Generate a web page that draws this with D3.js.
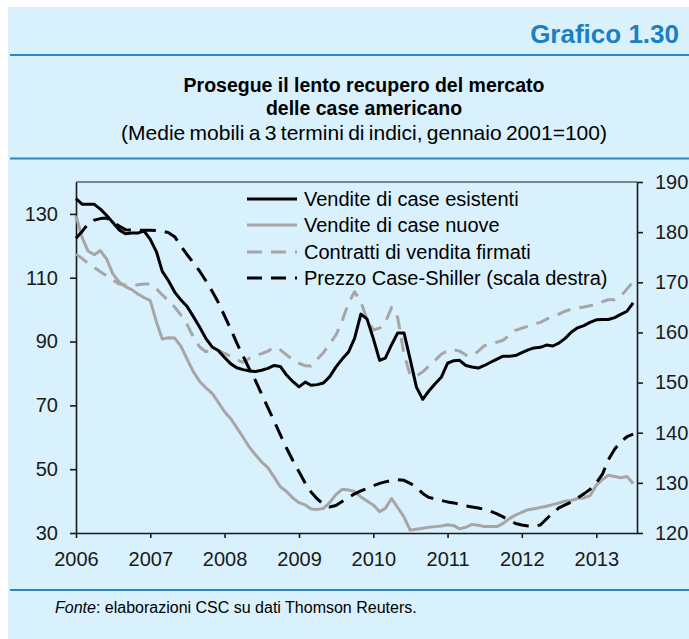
<!DOCTYPE html>
<html>
<head>
<meta charset="utf-8">
<script src="https://cdn.jsdelivr.net/npm/d3@7"></script>
<style>
  body { margin: 0; background: #ffffff; }
  svg { display: block; }
  text { font-family: "Liberation Sans", Arial, Helvetica, sans-serif; }
</style>
</head>
<body>
<svg id="chart" width="689" height="639"></svg>
<script>
// Monthly observations, January 2006 – July 2013
const startYear = 2006;
const yearTicks = [2006, 2007, 2008, 2009, 2010, 2011, 2012, 2013];
const leftTicks = [30, 50, 70, 90, 110, 130];
const rightTicks = [120, 130, 140, 150, 160, 170, 180, 190];

const seriesNames = [
  "Vendite di case esistenti",
  "Vendite di case nuove",
  "Contratti di vendita firmati",
  "Prezzo Case-Shiller (scala destra)"
];

// Existing home sales (left scale)
const existingSales = [
  134.8, 133, 133, 133, 131.5, 129.5, 127.3, 125, 123.8, 124, 124, 124.7,
  122, 118, 112, 109, 105.5, 103, 101, 97.8, 94.5, 91, 88.3, 87.2,
  85, 83, 81.8, 81.2, 80.8, 80.6, 81, 81.6, 82.5, 82.2, 79.5, 77.5,
  75.8, 77.3, 76.3, 76.5, 77, 79, 82, 84.5, 86.7, 91, 98.6, 97.1,
  91, 84.1, 84.8, 89, 92.7, 92.7, 84.5, 75.7, 71.9, 74.5, 76.8, 78.8,
  83.2, 84, 84.1, 82.5, 82, 81.7, 82.5, 83.5, 84.5, 85.4, 85.4, 85.6,
  86.5, 87.4, 88, 88.2, 88.9, 88.6, 89.5, 91, 93, 94.3, 95, 96,
  96.8, 96.9, 96.9, 97.5, 98.5, 99.5, 102.1
];

// New home sales (left scale)
const newSales = [
  129.4, 122.5, 118.4, 117.2, 118.5, 115.8, 111.2, 108.7, 107.2, 106.3, 104.9, 103.8,
  102.8, 96, 90.8, 91.2, 91.1, 88.5, 84.5, 80.5, 77.5, 75.5, 73.8, 71,
  68, 65.8, 63, 60, 57, 54.5, 52.3, 50.5, 47.5, 44.5, 43, 41,
  39.5, 38.8, 37.5, 37.4, 37.7, 39.5, 42, 43.7, 43.5, 43, 41.3, 40,
  38.8, 36.7, 37.7, 40.8, 38, 35, 30.9, 31.2, 31.5, 31.8, 32, 32.2,
  32.6, 32.3, 31.3, 31.8, 32.7, 32.4, 32, 32, 32, 33, 34.5, 35.6,
  36.5, 37.3, 37.6, 38, 38.4, 38.9, 39.4, 40, 40.2, 40.8, 41, 41.7,
  45, 46.8, 48.1, 47.7, 47.3, 47.7, 45.5
];

// Pending home sales contracts (left scale)
const pendingContracts = [
  117.4, 116, 114.5, 113.2, 111.9, 110.6, 109.3, 108, 107.7, 107.5, 107.8, 108,
  108, 106.5, 104.6, 102.8, 100.8, 98.3, 95.3, 91.4, 88.3, 86.8, 87.2, 87.2,
  86.3, 85.3, 84.3, 83.5, 84.7, 85.6, 86.2, 87, 88.2, 87.4, 85.8, 84.3,
  83.2, 82.4, 82.3, 84.5, 86.5, 89.3, 92, 96.5, 102, 105.6, 102.5, 97,
  93.6, 94.2, 96, 100.7, 97.5, 86, 79.5, 79.2, 80.5, 82.3, 84.1, 86,
  87.1, 87.4, 87, 85.8, 85.5, 87, 88.7, 89.3, 89.8, 90.4, 92, 93.5,
  94.2, 94.8, 95.5, 96, 97, 97.8, 98.6, 99.5, 100.2, 100.5, 100.8, 101.2,
  101.8, 102.5, 103.1, 103.1, 104.2, 106.5, 108.7
];

// Case-Shiller price index (right scale)
const caseShiller = [
  178.8, 180.2, 181.6, 182.4, 182.7, 182.8, 182, 181.2, 180.5, 180.4, 180.4, 180.4,
  180.4, 180.3, 180.2, 179.9, 179.1, 177.2, 175.5, 173.9, 172.2, 170.3, 168.2, 166.0,
  163.3, 160.6, 157.9, 155.3, 152.8, 150.4, 147.7, 145.0, 142.3, 139.6, 136.9, 134.5,
  132.2, 129.9, 128.2, 126.8, 125.7, 125.2, 125.5, 126.3, 127.1, 127.8, 128.4, 128.9,
  129.4, 129.9, 130.2, 130.5, 130.6, 130.5, 129.9, 129.1, 127.9, 127.1, 126.8, 126.5,
  126.2, 126, 125.7, 125.4, 125.2, 125, 124.7, 124.3, 123.8, 123.2, 122.6, 121.9,
  121.6, 121.4, 121.3, 121.6, 122.8, 124, 125, 125.6, 126.2, 127, 127.8, 128.7,
  130, 131.8, 134.6, 136.7, 138.2, 139.2, 139.7
];

const months = existingSales.map((_, i) => new Date(startYear, i, 1));

// ---- layout ----
const svg = d3.select("#chart");
const plot = { left: 76, right: 637, top: 182, bottom: 533 };
const blue = "#2a86c4";
const panelFill = "#d9f0fd";
const grey = "#a6a6a6";

svg.append("rect")
  .attr("x", 8).attr("y", 7).attr("width", 681).attr("height", 632)
  .attr("fill", panelFill);

// horizontal rules
[55, 158.5, 590].forEach(y => {
  svg.append("line")
    .attr("x1", 10).attr("x2", 689).attr("y1", y).attr("y2", y)
    .attr("stroke", blue).attr("stroke-width", 2);
});

svg.append("text")
  .attr("x", 679).attr("y", 43)
  .attr("text-anchor", "end")
  .attr("font-size", 26).attr("font-weight", "bold")
  .attr("fill", "#1b7fc1")
  .text("Grafico 1.30");

const titleX = 364;
svg.append("text")
  .attr("x", titleX).attr("y", 92).attr("text-anchor", "middle")
  .attr("font-size", 19.5).attr("font-weight", "bold").attr("fill", "#000")
  .text("Prosegue il lento recupero del mercato");
svg.append("text")
  .attr("x", titleX).attr("y", 115).attr("text-anchor", "middle")
  .attr("font-size", 19.5).attr("font-weight", "bold").attr("fill", "#000")
  .text("delle case americano");
svg.append("text")
  .attr("x", titleX).attr("y", 140).attr("text-anchor", "middle")
  .attr("font-size", 21).attr("word-spacing", -1.5).attr("fill", "#000")
  .text("(Medie mobili a 3 termini di indici, gennaio 2001=100)");

const foot = svg.append("text")
  .attr("x", 55).attr("y", 613)
  .attr("font-size", 16).attr("fill", "#000");
foot.append("tspan").attr("font-style", "italic").text("Fonte");
foot.append("tspan").text(": elaborazioni CSC su dati Thomson Reuters.");

// ---- scales ----
const x = d3.scaleTime()
  .domain([new Date(2006, 0, 1), new Date(2013, 6, 20)])
  .range([plot.left, plot.right]);
const yL = d3.scaleLinear().domain([30, 140]).range([plot.bottom, plot.top]);
const yR = d3.scaleLinear().domain([120, 190]).range([plot.bottom, plot.top]);

const axisColor = "#1a1a1a";
function styleAxis(g) {
  g.selectAll("path.domain").attr("stroke", axisColor).attr("stroke-width", 1.6);
  g.selectAll(".tick line").attr("stroke", axisColor).attr("stroke-width", 1.6);
  g.selectAll(".tick text")
    .attr("fill", "#1a1a1a")
    .attr("font-size", 20)
    .attr("font-family", '"Liberation Sans", Arial, sans-serif');
}

// top frame line
svg.append("line")
  .attr("x1", plot.left).attr("x2", plot.right)
  .attr("y1", plot.top).attr("y2", plot.top)
  .attr("stroke", axisColor).attr("stroke-width", 1.2);

svg.append("g")
  .attr("transform", `translate(${plot.left},0)`)
  .call(d3.axisLeft(yL).tickValues(leftTicks).tickSize(6).tickSizeOuter(0).tickPadding(12))
  .call(styleAxis);

svg.append("g")
  .attr("transform", `translate(${plot.right},0)`)
  .call(d3.axisRight(yR).tickValues(rightTicks).tickSize(6).tickSizeOuter(0).tickPadding(12))
  .call(styleAxis);

svg.append("g")
  .attr("transform", `translate(0,${plot.bottom})`)
  .call(d3.axisBottom(x)
    .tickValues(yearTicks.map(yr => new Date(yr, 0, 1)))
    .tickFormat(d3.timeFormat("%Y"))
    .tickSize(5).tickSizeOuter(0).tickPadding(14))
  .call(styleAxis);

// ---- series ----
const series = [
  { name: seriesNames[0], values: existingSales, scale: yL, color: "#000000", dash: null },
  { name: seriesNames[1], values: newSales, scale: yL, color: grey, dash: null },
  { name: seriesNames[2], values: pendingContracts, scale: yL, color: grey, dash: "14,9" },
  { name: seriesNames[3], values: caseShiller, scale: yR, color: "#000000", dash: "16,9" }
];

const drawOrder = [1, 2, 3, 0];
drawOrder.forEach(i => {
  const s = series[i];
  const line = d3.line()
    .x((d, j) => x(months[j]))
    .y(d => s.scale(d));
  svg.append("path")
    .datum(s.values)
    .attr("d", line)
    .attr("fill", "none")
    .attr("stroke", s.color)
    .attr("stroke-width", 3)
    .attr("stroke-linejoin", "round")
    .attr("stroke-dasharray", s.dash);
});

// ---- legend ----
const legend = svg.append("g");
const legendRows = [199, 225, 252, 278];
series.forEach((s, i) => {
  const y = legendRows[i];
  legend.append("line")
    .attr("x1", 247).attr("x2", 297).attr("y1", y).attr("y2", y)
    .attr("stroke", s.color).attr("stroke-width", 3)
    .attr("stroke-dasharray", s.dash ? "15,9" : null);
  legend.append("text")
    .attr("x", 304).attr("y", y).attr("dy", "0.35em")
    .attr("font-size", 20).attr("fill", "#000")
    .text(s.name);
});
</script>
</body>
</html>
